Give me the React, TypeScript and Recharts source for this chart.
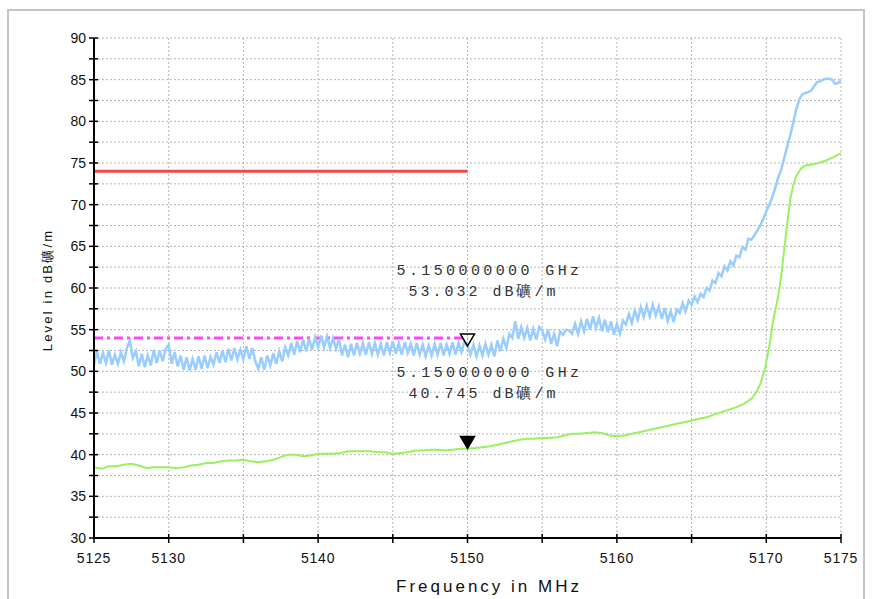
import React from "react";
import {
  ComposedChart,
  Line,
  Scatter,
  XAxis,
  YAxis,
  CartesianGrid,
} from "recharts";

// sweep grid of the blue trace: 5125 MHz upward in 0.2 MHz steps
const BLUE_START = 5125;
const BLUE_STEP = 0.2;

const blueLevels = [
  50.8, 52.4, 50.9, 52.2, 51.0, 52.5, 50.8, 52.0, 50.9, 52.3,
  51.2, 52.8, 53.7, 51.6, 52.4, 50.6, 52.1, 50.5, 51.9, 50.7,
  52.6, 51.0, 52.5, 51.2, 52.7, 53.2, 50.9, 52.3, 50.6, 51.9,
  50.2, 51.7, 50.1, 51.5, 50.2, 51.8, 50.3, 51.9, 50.4, 51.7,
  50.8, 52.3, 51.0, 52.5, 51.1, 52.7, 51.3, 52.8, 51.4, 52.6,
  51.4, 53.0, 51.5, 52.8, 51.2, 50.3, 51.7, 50.2, 51.9, 50.7,
  52.2, 50.9, 52.4, 51.2, 52.9, 51.9, 53.4, 52.0, 53.6, 52.3,
  53.8, 52.4, 53.9, 52.6, 54.1, 52.9, 54.3, 52.9, 54.2, 52.8,
  54.0, 52.7, 53.9, 51.9, 53.2, 51.7, 53.3, 51.9, 53.4, 52.1,
  53.4, 52.0, 53.5, 52.1, 53.4, 52.0, 53.3, 51.9, 53.5, 52.2,
  53.6, 52.1, 53.4, 52.0, 53.5, 52.2, 53.3, 51.9, 53.4, 52.0,
  53.2, 51.8, 53.1, 51.9, 53.3, 52.0, 53.4, 51.9, 53.2, 52.1,
  53.5, 52.0, 53.4, 52.3, 53.6, 53.1, 52.0, 53.2, 51.8, 53.1,
  51.9, 53.3, 52.0, 53.2, 51.8, 53.7, 52.4, 53.9, 52.8, 54.5,
  54.0, 56.0, 53.9, 55.3, 54.0, 55.2, 53.7, 55.1, 53.8, 55.3,
  54.9, 53.8, 55.0, 53.3, 54.5, 53.0, 54.8, 54.4, 55.0, 54.9,
  54.5, 55.7, 54.5, 56.0, 54.8, 56.3, 55.0, 56.6, 55.2, 56.4,
  54.8, 56.2, 54.7, 56.0, 54.4, 55.7, 54.5, 56.1, 55.6, 56.9,
  55.8, 57.3, 56.2, 57.7, 56.5, 57.9, 56.6, 58.0, 56.7, 57.8,
  56.3, 57.6, 56.0, 57.2, 55.9, 57.4, 57.0, 58.2, 57.2, 58.5,
  58.0, 59.0, 58.3, 59.3, 58.9, 60.0, 59.7, 60.9, 60.6, 61.8,
  61.4, 62.6, 62.1, 63.2, 62.7, 63.9, 63.7, 64.9, 64.6, 65.9,
  65.8, 66.3, 66.9, 67.5, 68.3, 69.2, 70.0, 70.9, 72.0, 73.3,
  74.2, 75.6, 77.0, 78.3, 79.8, 81.4, 82.6, 83.2, 83.4, 83.5,
  83.7, 84.2, 84.7, 84.8, 85.0, 85.1, 85.1, 85.0, 84.5, 84.6,
  84.9,
];

const greenFreqs = [
  5125, 5125.5, 5126, 5126.5, 5127, 5127.5, 5128, 5128.5, 5129, 5129.5,
  5130, 5130.5, 5131, 5131.5, 5132, 5132.5, 5133, 5133.5, 5134, 5134.5,
  5135, 5135.5, 5136, 5136.5, 5137, 5137.5, 5138, 5138.5, 5139, 5139.5,
  5140, 5140.5, 5141, 5141.5, 5142, 5142.5, 5143, 5143.5, 5144, 5144.5,
  5145, 5145.5, 5146, 5146.5, 5147, 5147.5, 5148, 5148.5, 5149, 5149.5,
  5150, 5150.5, 5151, 5151.5, 5152, 5152.5, 5153, 5153.5, 5154, 5154.5,
  5155, 5155.5, 5156, 5156.5, 5157, 5157.5, 5158, 5158.5, 5159, 5159.5,
  5160, 5160.5, 5161, 5161.5, 5162, 5162.5, 5163, 5163.5, 5164, 5164.5,
  5165, 5165.5, 5166, 5166.5, 5167, 5167.5, 5168, 5168.5, 5169, 5169.3,
  5169.6, 5169.9, 5170.2, 5170.5, 5170.8, 5171, 5171.2, 5171.4, 5171.6, 5171.8,
  5172, 5172.3, 5172.6, 5173, 5173.5, 5174, 5174.5, 5175,
];

const greenLevels = [
  38.5, 38.3, 38.6, 38.6, 38.8, 38.9, 38.7, 38.4, 38.5, 38.5,
  38.5, 38.4, 38.5, 38.7, 38.8, 39.0, 39.0, 39.2, 39.3, 39.3,
  39.4, 39.2, 39.1, 39.2, 39.4, 39.7, 40.0, 40.0, 39.8, 39.9,
  40.1, 40.1, 40.1, 40.2, 40.4, 40.4, 40.4, 40.4, 40.3, 40.3,
  40.1, 40.2, 40.3, 40.5, 40.5, 40.6, 40.6, 40.5, 40.6, 40.7,
  40.75, 40.8, 40.9, 41.0, 41.2, 41.4, 41.6, 41.8, 41.9, 41.9,
  42.0, 42.0, 42.1, 42.3, 42.5, 42.5, 42.6, 42.7, 42.6, 42.3,
  42.2, 42.3, 42.5, 42.7, 42.9, 43.1, 43.3, 43.5, 43.7, 43.9,
  44.1, 44.3, 44.5, 44.8, 45.1, 45.4, 45.7, 46.1, 46.7, 47.4,
  48.5, 50.2, 53.0, 56.5, 59.0, 61.5, 64.6, 67.7, 70.6, 72.3,
  73.4, 74.3, 74.7, 74.8, 75.0, 75.3, 75.7, 76.2,
];

const limitFreqs = [5125, 5150];
const peakLimit = 74;
const avgLimit = 54;

const markerFreq = 5150;
const markerPeak = 53.032;
const markerAvg = 40.745;

const xTicks = [5125, 5130, 5135, 5140, 5145, 5150, 5155, 5160, 5165, 5170, 5175];
const xLabeled = [5125, 5130, 5140, 5150, 5160, 5170, 5175];
const yTicks = [
  30, 32.5, 35, 37.5, 40, 42.5, 45, 47.5, 50, 52.5, 55, 57.5, 60, 62.5, 65,
  67.5, 70, 72.5, 75, 77.5, 80, 82.5, 85, 87.5, 90,
];

const blueData = blueLevels.map((v, i) => ({ f: BLUE_START + i * BLUE_STEP, v }));
const greenData = greenFreqs.map((f, i) => ({ f, v: greenLevels[i] }));
const peakLimitData = limitFreqs.map((f) => ({ f, v: peakLimit }));
const avgLimitData = limitFreqs.map((f) => ({ f, v: avgLimit }));

const W = 872;
const H = 599;
const PLOT_LEFT = 94;
const PLOT_BOTTOM = 538;
const tickFont = "'Liberation Sans', Arial, sans-serif";
const markFont = "'Liberation Mono', 'Courier New', monospace";

function YTick(props: any) {
  const { y, payload } = props;
  const val = payload.value;
  return (
    <g>
      <line x1={PLOT_LEFT - 5} x2={PLOT_LEFT + 4} y1={y} y2={y} stroke="#000" strokeWidth={1.5} />
      {val % 5 === 0 && (
        <text
          x={PLOT_LEFT - 8}
          y={y}
          textAnchor="end"
          dominantBaseline="central"
          fontSize={14}
          fontFamily={tickFont}
          fill="#111"
        >
          {val}
        </text>
      )}
    </g>
  );
}

function XTick(props: any) {
  const { x, payload } = props;
  const val = payload.value;
  return (
    <g>
      <line x1={x} x2={x} y1={PLOT_BOTTOM - 4} y2={PLOT_BOTTOM + 5} stroke="#000" strokeWidth={1.5} />
      {xLabeled.includes(val) && (
        <text
          x={x}
          y={PLOT_BOTTOM + 20}
          textAnchor="middle"
          dominantBaseline="central"
          fontSize={14}
          fontFamily={tickFont}
          letterSpacing={0.8}
          fill="#111"
        >
          {val}
        </text>
      )}
    </g>
  );
}

function markerShape(filled: boolean, level: number) {
  return (props: any) => {
    const { cx, cy } = props;
    return (
      <g>
        <path
          d={`M${cx},${cy} L${cx - 7},${cy - 12} L${cx + 7},${cy - 12} Z`}
          fill={filled ? "#000" : "none"}
          stroke="#000"
          strokeWidth={1.5}
        />
        <text
          x={cx + 22}
          y={cy - 75}
          textAnchor="middle"
          dominantBaseline="central"
          fontSize={15}
          fontFamily={markFont}
          letterSpacing={3.4}
          fill="#333"
        >
          5.150000000 GHz
        </text>
        <text
          x={cx + 16}
          y={cy - 54}
          textAnchor="middle"
          dominantBaseline="central"
          fontSize={15}
          fontFamily={markFont}
          letterSpacing={3}
          fill="#333"
        >
          {`${level.toFixed(3)} dB礦/m`}
        </text>
      </g>
    );
  };
}

export default function App() {
  return (
    <div style={{ position: "absolute", left: 0, top: 0, width: W, height: H, background: "#fff", overflow: "hidden" }}>
      <div
        style={{
          position: "absolute",
          left: 7,
          top: 9,
          width: 858,
          height: 600,
          border: "2px solid #c4c4c4",
          boxSizing: "border-box",
        }}
      />
      <div style={{ position: "absolute", left: 0, top: 0 }}>
        <ComposedChart width={W} height={H} margin={{ top: 38, right: 31, bottom: 21, left: 44 }}>
          <CartesianGrid stroke="#b5b5b5" strokeDasharray="2 2" strokeWidth={1} />
          <XAxis
            dataKey="f"
            type="number"
            domain={[5125, 5175]}
            ticks={xTicks}
            allowDataOverflow
            height={40}
            axisLine={{ stroke: "#000", strokeWidth: 2 }}
            tickLine={false}
            tick={<XTick />}
            interval={0}
          />
          <YAxis
            type="number"
            domain={[30, 90]}
            ticks={yTicks}
            allowDataOverflow
            width={50}
            axisLine={{ stroke: "#000", strokeWidth: 2 }}
            tickLine={false}
            tick={<YTick />}
            interval={0}
          />
          <Line
            data={peakLimitData}
            dataKey="v"
            stroke="#f04848"
            strokeWidth={3}
            dot={false}
            activeDot={false}
            isAnimationActive={false}
          />
          <Line
            data={avgLimitData}
            dataKey="v"
            stroke="#ff44ff"
            strokeWidth={3}
            strokeDasharray="9 4 3 4"
            dot={false}
            activeDot={false}
            isAnimationActive={false}
          />
          <Line
            data={blueData}
            dataKey="v"
            stroke="#99ccff"
            strokeWidth={2.5}
            dot={false}
            activeDot={false}
            isAnimationActive={false}
          />
          <Line
            data={greenData}
            dataKey="v"
            stroke="#99f060"
            strokeWidth={2}
            dot={false}
            activeDot={false}
            isAnimationActive={false}
          />
          <Scatter
            data={[{ f: markerFreq, v: markerPeak }]}
            dataKey="v"
            shape={markerShape(false, markerPeak)}
            isAnimationActive={false}
          />
          <Scatter
            data={[{ f: markerFreq, v: markerAvg }]}
            dataKey="v"
            shape={markerShape(true, markerAvg)}
            isAnimationActive={false}
          />
        </ComposedChart>
      </div>
      <div
        style={{
          position: "absolute",
          left: 48,
          top: 290,
          transform: "translate(-50%, -50%) rotate(-90deg)",
          whiteSpace: "nowrap",
          fontFamily: tickFont,
          fontSize: 13,
          letterSpacing: 2.2,
          color: "#111",
        }}
      >
        Level in dB礦/m
      </div>
      <div
        style={{
          position: "absolute",
          left: 489,
          top: 587,
          transform: "translate(-50%, -50%)",
          whiteSpace: "nowrap",
          fontFamily: tickFont,
          fontSize: 17,
          letterSpacing: 3,
          color: "#111",
        }}
      >
        Frequency in MHz
      </div>
    </div>
  );
}
